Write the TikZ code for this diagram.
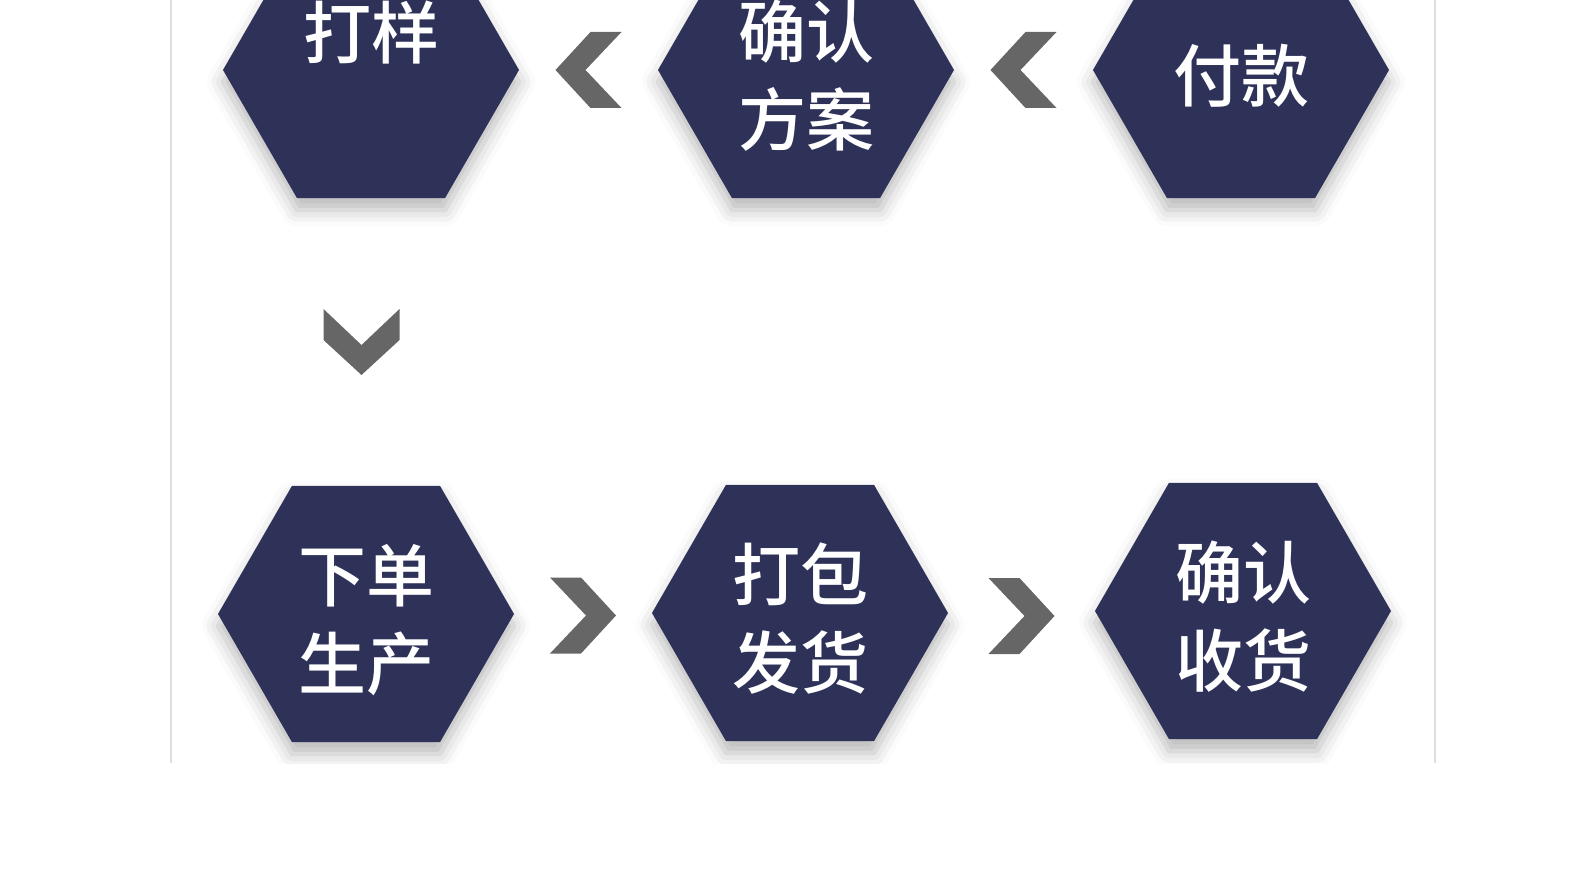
\documentclass[tikz,border=0pt]{standalone}
\usepackage{fontspec}
\newfontfamily\cjk{Noto Sans CJK SC Medium}
\usetikzlibrary{shapes.geometric,calc,shadows.blur}

\tikzset{
    hexa/.style={regular polygon, regular polygon sides=6, minimum size=296pt, inner sep=0pt,
        fill=hexColour,
        blur shadow={shadow xshift=0pt, shadow yshift=-12pt, shadow blur radius=16pt, shadow opacity=28}},
    hexatext/.style={text=white, align=center, font=\cjk\fontsize{68}{88}\selectfont},
    steplabel/.style={label={[hexatext, yshift=-6pt]center:#1}},
    chev/.pic={\fill[chevColour] (-33,0) -- (2,-38) -- (33,-38) -- (-3,0) -- (33,38) -- (2,38) -- cycle;}
}

\begin{document}
\begin{tikzpicture}[x=1pt,y=-1pt]
    % Define colours
    \definecolor{hexColour}{HTML}{2E3259}
    \definecolor{chevColour}{HTML}{666666}
    \definecolor{lineColour}{HTML}{DEDEDE}

    \useasboundingbox (0,0) rectangle (1580,882);

    % Draw side lines
    \draw[lineColour, line width=2pt] (171,0) -- (171,763);
    \draw[lineColour, line width=2pt] (1435,0) -- (1435,763);

    \begin{scope}
        \clip (0,0) rectangle (1580,763);

        % Top row
        \node[hexa] (sample) at (371,70) {};
        \node[hexa, steplabel={确认\\方案}] (plan) at (806,70) {};
        \node[hexa, steplabel={付款}] (pay) at (1241,70) {};

        % Bottom row
        \node[hexa, steplabel={下单\\生产}] (produce) at (366,614) {};
        \node[hexa, steplabel={打包\\发货}] (ship) at (800,613) {};
        \node[hexa, steplabel={确认\\收货}] (receive) at (1243,611) {};
    \end{scope}

    % Label of the first step
    \node[hexatext] (sampletext) at (371,32) {打样};

    % Draw chevrons between the steps
    \pic at ($(pay)!0.5!(plan)$) {chev};
    \pic at ($(plan)!0.5!(sample)$) {chev};
    \pic[rotate=90] at ($(sample)!0.5!(produce)+(-7,0)$) {chev};
    \pic[rotate=180] at ($(produce)!0.5!(ship)+(0,2)$) {chev};
    \pic[rotate=180] at ($(ship)!0.5!(receive)+(0,4)$) {chev};

\end{tikzpicture}
\end{document}
